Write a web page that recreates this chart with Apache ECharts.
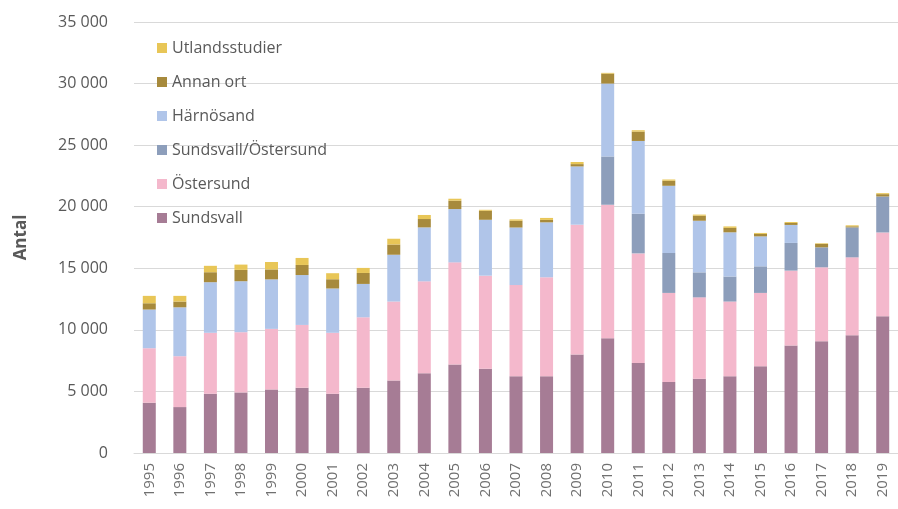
<!DOCTYPE html>
<html>
<head>
<meta charset="utf-8">
<script src="https://cdn.jsdelivr.net/npm/echarts@6/dist/echarts.min.js"></script>
<style>
  html, body { margin: 0; padding: 0; background: #fff; }
  #chart { width: 898px; height: 509px; }
</style>
</head>
<body>
<div id="chart"></div>
<script>
// år
const years = ['1995','1996','1997','1998','1999','2000','2001','2002','2003','2004','2005','2006',
  '2007','2008','2009','2010','2011','2012','2013','2014','2015','2016','2017','2018','2019'];

// antal per studieort
const sundsvall = [4080,3730,4810,4920,5160,5300,4810,5300,5890,6480,7190,6840,
  6240,6240,8000,9320,7310,5760,6030,6240,7050,8730,9080,9570,11100];
const ostersund = [4430,4130,4950,4890,4920,5100,4950,5720,6410,7460,8290,7560,
  7400,8030,10540,10840,8900,7240,6610,6060,5950,6080,6000,6320,6810];
const sundsvallOstersund = [0,0,0,0,0,0,0,0,0,0,0,0,
  0,0,0,3920,3220,3240,2030,2030,2160,2250,1620,2430,2920];
const harnosand = [3140,3970,4110,4140,4020,4050,3600,2710,3800,4380,4330,4540,
  4670,4460,4730,5920,5910,5460,4190,3590,2430,1460,0,0,0];
const annanOrt = [510,470,810,920,810,820,750,890,830,680,680,730,
  550,200,190,810,760,410,410,360,200,160,280,90,190];
const utland = [600,460,520,430,600,570,490,410,470,330,160,80,
  110,160,170,60,110,100,90,120,80,80,50,80,80];

const names = ['Sundsvall', 'Östersund', 'Sundsvall/Östersund', 'Härnösand', 'Annan ort', 'Utlandsstudier'];
const colors = ['#a67c95', '#f4b8cc', '#8d9ebb', '#b0c5e9', '#a78a3c', '#e8c657'];
const values = [sundsvall, ostersund, sundsvallOstersund, harnosand, annanOrt, utland];

const textColor = '#595959';
const font = 'Open Sans';

const chart = echarts.init(document.getElementById('chart'));

const option = {
  animation: false,
  textStyle: { fontFamily: font },
  grid: { left: 134, top: 22, width: 770, height: 431 },
  legend: {
    orient: 'vertical',
    left: 152,
    top: 33,
    itemWidth: 10,
    itemHeight: 10,
    itemGap: 14,
    icon: 'rect',
    data: names.slice().reverse(),
    textStyle: { color: textColor, fontSize: 16, fontFamily: font, lineHeight: 20 }
  },
  xAxis: {
    type: 'category',
    data: years,
    axisTick: { show: false },
    axisLine: { lineStyle: { color: '#d9d9d9' } },
    axisLabel: { rotate: 90, color: '#707070', fontSize: 15, margin: 10, fontFamily: font }
  },
  yAxis: {
    type: 'value',
    min: 0,
    max: 35000,
    interval: 5000,
    name: 'Antal',
    nameLocation: 'middle',
    nameGap: 104,
    nameTextStyle: { color: textColor, fontSize: 17, fontWeight: 'bold', fontFamily: font },
    axisLine: { show: false },
    axisTick: { show: false },
    splitLine: { lineStyle: { color: '#d9d9d9' } },
    axisLabel: {
      color: textColor,
      fontSize: 16,
      margin: 26,
      fontFamily: font,
      formatter: v => String(v).replace(/\B(?=(\d{3})+(?!\d))/g, ' ')
    }
  },
  series: names.map((n, i) => ({
    name: n,
    type: 'bar',
    stack: 'total',
    barWidth: 13,
    itemStyle: { color: colors[i] },
    data: values[i]
  }))
};

chart.setOption(option);
</script>
</body>
</html>
